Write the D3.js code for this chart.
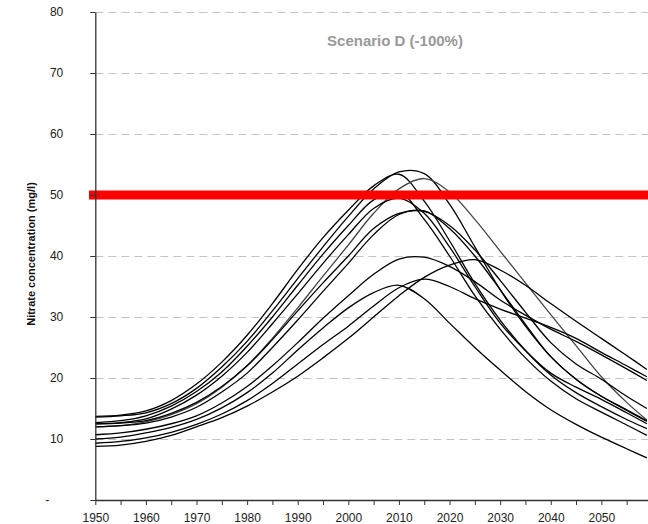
<!DOCTYPE html>
<html>
<head>
<meta charset="utf-8">
<script src="https://cdn.jsdelivr.net/npm/d3@7"></script>
<style>
  body { margin: 0; background: #fff; }
  svg { display: block; font-family: "Liberation Sans", Arial, sans-serif; }
</style>
</head>
<body>
<div id="chart"></div>
<script>
// knot years
const years = [1950, 1955, 1960, 1965, 1970, 1975, 1980, 1985, 1990, 1995, 2000, 2005,
               2010, 2015, 2020, 2025, 2030, 2035, 2040, 2045, 2050, 2055, 2059];

// nitrate concentration (mg/l), one array per simulated well
const runA = [13.6, 13.8, 14.3, 15.8, 18.3, 21.8, 26.0, 31.0, 36.3, 41.5, 46.5, 51.0, 53.8, 53.5, 48.5, 41.5, 34.5, 28.5, 23.5, 19.8, 17.0, 14.7, 12.9];
const runB = [13.7, 13.9, 14.6, 16.3, 19.0, 22.6, 27.0, 32.2, 37.8, 43.0, 47.5, 51.5, 53.4, 49.0, 42.5, 35.5, 29.5, 24.5, 20.5, 17.6, 15.3, 13.2, 11.7];
const runC = [12.0, 12.2, 12.8, 14.0, 15.8, 18.5, 22.0, 26.5, 31.5, 36.7, 41.8, 47.0, 51.0, 52.7, 50.5, 46.0, 40.8, 35.6, 30.4, 25.3, 20.2, 16.0, 13.1];
const runD = [12.7, 13.0, 13.8, 15.4, 17.8, 21.0, 25.2, 30.0, 35.2, 40.3, 45.0, 49.2, 50.5, 46.0, 40.0, 33.5, 28.0, 23.3, 19.5, 16.6, 14.4, 12.3, 10.6];
const runE = [12.5, 12.6, 13.0, 14.2, 16.0, 18.6, 22.0, 26.3, 31.0, 35.6, 40.0, 44.5, 47.0, 47.3, 45.0, 41.0, 36.0, 30.8, 25.8, 22.3, 19.8, 17.0, 15.0];
const runF = [12.0, 12.2, 12.6, 13.6, 15.2, 17.7, 20.8, 25.0, 29.5, 34.2, 38.8, 43.5, 46.8, 47.4, 44.5, 40.0, 34.5, 28.8, 23.5, 19.8, 17.0, 14.8, 13.0];
const runG = [10.7, 11.0, 11.6, 12.5, 13.8, 15.9, 18.6, 22.0, 25.8, 29.8, 33.5, 37.0, 39.5, 39.8, 38.3, 35.8, 32.8, 30.3, 28.0, 26.0, 23.8, 21.5, 19.6];
const runH = [8.8, 9.0, 9.6, 10.6, 12.0, 13.5, 15.4, 17.7, 20.3, 23.3, 26.5, 30.0, 33.5, 36.5, 38.5, 39.4, 37.7, 35.2, 32.2, 29.3, 26.5, 23.7, 21.4];
const runI = [9.3, 9.6, 10.2, 11.1, 12.4, 14.1, 16.3, 19.1, 22.3, 25.5, 28.5, 31.8, 34.8, 36.2, 35.0, 33.0, 31.3, 29.8, 28.3, 26.5, 24.2, 22.0, 20.2];
const runJ = [10.0, 10.3, 11.0, 11.9, 13.2, 15.1, 17.6, 20.8, 24.6, 28.2, 31.5, 34.0, 35.2, 33.0, 29.0, 25.0, 21.3, 17.8, 14.8, 12.4, 10.3, 8.4, 6.9];
const runK = [12.5, 12.7, 13.3, 14.9, 17.2, 20.3, 24.2, 28.9, 33.8, 38.8, 43.5, 47.8, 49.5, 47.0, 41.5, 35.0, 29.0, 24.5, 20.8, 18.5, 16.5, 14.3, 12.5];

const yTicks = [0, 10, 20, 30, 40, 50, 60, 70, 80];
const xTicks = d3.range(1950, 2060, 5);
const limit = 50;
const title = "Scenario D (-100%)";
const yTitle = "Nitrate concentration (mg/l)";

var width = 648,
    height = 524;

var runs = [runA, runB, runC, runD, runE, runF, runG, runH, runI, runJ, runK];
var grayRun = runC;

var svg = d3.select("#chart").append("svg")
    .attr("width", width)
    .attr("height", height);

var x = d3.scaleLinear().domain([1950, 2059.2]).range([95.3, 647.9]);
var y = d3.scaleLinear().domain([0, 80]).range([500, 12]);

// dashed grid
svg.append("g").selectAll("line").data(yTicks.filter(d => d > 0)).enter()
    .append("line")
        .attr("x1", x(1950)).attr("x2", width)
        .attr("y1", d => Math.round(y(d)) + 0.5).attr("y2", d => Math.round(y(d)) + 0.5)
        .attr("stroke", "#c4c4c4")
        .attr("stroke-dasharray", "8,5");

// curves
var line = d3.line()
    .x((d, i) => x(years[i]))
    .y(d => y(d))
    .curve(d3.curveCatmullRom.alpha(0.5));

svg.append("g").selectAll("path").data(runs).enter()
    .append("path")
        .attr("d", line)
        .attr("fill", "none")
        .attr("stroke", d => d === grayRun ? "#444" : "#000")
        .attr("stroke-width", 1.3);

// limit line
svg.append("line")
    .attr("x1", 89).attr("x2", width)
    .attr("y1", y(limit)).attr("y2", y(limit))
    .attr("stroke", "#ff0000")
    .attr("stroke-width", 9);

// axes
var yAxis = svg.append("g")
    .attr("transform", "translate(" + x(1950) + ",0)")
    .call(d3.axisLeft(y).tickValues(yTicks).tickSize(5).tickSizeOuter(0).tickPadding(27)
        .tickFormat(d => d === 0 ? "-" : d));

var xAxis = svg.append("g")
    .attr("transform", "translate(0," + y(0) + ")")
    .call(d3.axisBottom(x).tickValues(xTicks).tickSize(5).tickSizeOuter(0).tickPadding(8)
        .tickFormat(d => d % 10 === 0 ? d : ""));

[yAxis, xAxis].forEach(function (g) {
    g.select(".domain").attr("stroke", "#333").attr("stroke-width", 1.3);
    g.selectAll(".tick line").attr("stroke", "#333");
    g.selectAll("text").attr("fill", "#222").style("font-size", "12px")
        .style("font-family", '"Liberation Sans", Arial, sans-serif');
});

// the zero label sits further left, as in the spreadsheet format
yAxis.selectAll(".tick").filter(d => d === 0).select("text").attr("x", -46);

svg.append("text")
    .attr("transform", "translate(34.5,254) rotate(-90)")
    .attr("text-anchor", "middle")
    .style("font-size", "11px")
    .style("font-weight", "bold")
    .attr("fill", "#111")
    .text(yTitle);

svg.append("text")
    .attr("x", 395).attr("y", 45.5)
    .attr("text-anchor", "middle")
    .style("font-size", "15px")
    .style("font-weight", "bold")
    .attr("fill", "#999")
    .text(title);
</script>
</body>
</html>
